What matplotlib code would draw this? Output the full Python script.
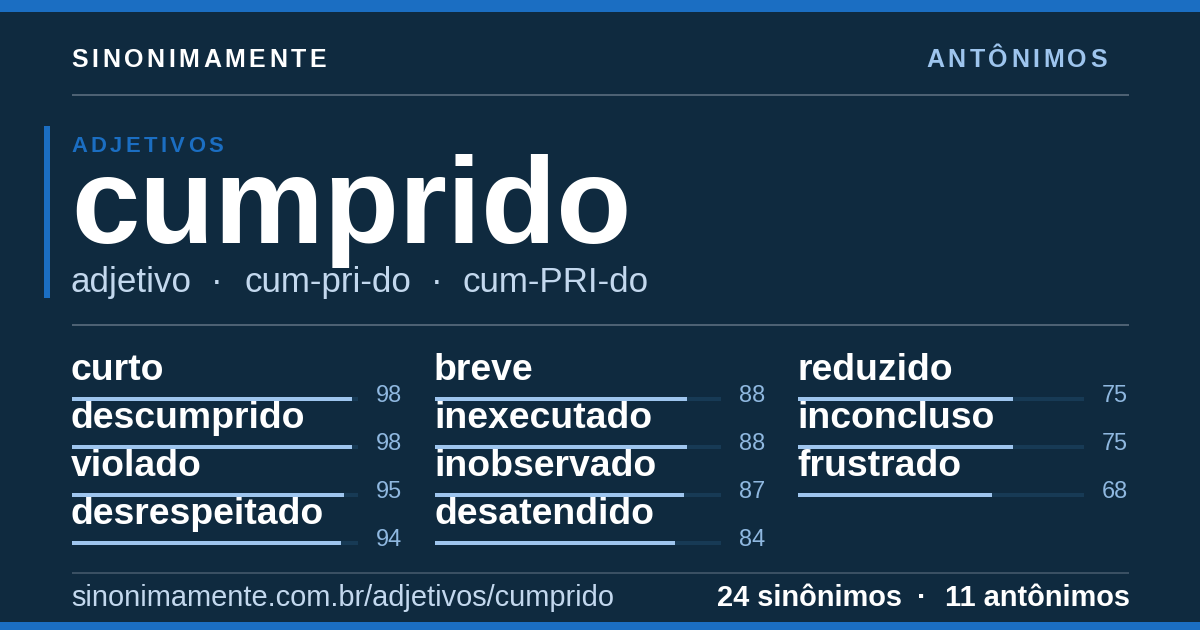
import matplotlib
matplotlib.use("Agg")
import matplotlib.pyplot as plt
from matplotlib import font_manager
from matplotlib.font_manager import FontProperties
from matplotlib.ft2font import FT2Font
from matplotlib.patches import Rectangle

# ---------------- data ----------------
brand = "SINONIMAMENTE"
nav_label = "ANTÔNIMOS"
category = "ADJETIVOS"
headword = "cumprido"
sub_parts = ["adjetivo", "cum-pri-do", "cum-PRI-do"]
col1_words = ["curto", "descumprido", "violado", "desrespeitado"]
col1_scores = [98, 98, 95, 94]
col2_words = ["breve", "inexecutado", "inobservado", "desatendido"]
col2_scores = [88, 88, 87, 84]
col3_words = ["reduzido", "inconcluso", "frustrado"]
col3_scores = [75, 75, 68]
footer_url = "sinonimamente.com.br/adjetivos/cumprido"
n_syn_label = "24 sinônimos"
n_ant_label = "11 antônimos"

# ---------------- style ----------------
BG = "#0f2a3f"
BLUE = "#1b6ec2"
LIGHT = "#9ec5ee"
SUB = "#c3d8ee"
NUM = "#8fb8e0"
TRACK = "#173a55"
DIV = "#4d6173"
FONT = "Liberation Sans"
DPI = 100

def pt(px):
    return px * 72.0 / DPI

fig = plt.figure(figsize=(12, 6.3), dpi=DPI, facecolor=BG)
ax = fig.add_axes([0, 0, 1, 1])
ax.set_xlim(0, 1200)
ax.set_ylim(630, 0)
ax.axis("off")
ax.set_facecolor(BG)

def rect(x, y, w, h, color):
    ax.add_patch(Rectangle((x, y), w, h, facecolor=color, edgecolor="none", lw=0))

def hline(y, x0, x1, color, lw=2):
    ax.plot([x0, x1], [y, y], color=color, lw=lw * 0.72, solid_capstyle="butt")

def spaced(x, y, s, px, ls, color, weight="bold", ha="left"):
    fp = FontProperties(family=FONT, weight=weight)
    f = FT2Font(font_manager.findfont(fp))
    f.set_size(pt(px), DPI)
    advs = []
    for ch in s:
        g = f.load_char(ord(ch))
        advs.append(g.linearHoriAdvance / 65536.0)
    total = sum(advs) + ls * (len(s) - 1)
    cx = x - total if ha == "right" else x
    for ch, a in zip(s, advs):
        ax.text(cx, y, ch, fontsize=pt(px), family=FONT, weight=weight,
                color=color, ha="left", va="baseline")
        cx += a + ls

# bars top and bottom
rect(0, 0, 1200, 12, BLUE)
rect(0, 622, 1200, 8, BLUE)

# header
spaced(71.5, 67, brand, 25, 3.5, "white")
spaced(1107, 67, nav_label, 25, 3.5, LIGHT, ha="right")
hline(95, 72, 1129, DIV)

# accent bar and title block
rect(44, 126, 6, 172, BLUE)
spaced(71.5, 152, category, 22, 3.4, BLUE)
ax.text(71, 243, headword, fontsize=pt(123), family=FONT, weight="bold",
        color="white", ha="left", va="baseline")
sub_x = [71, 244, 462]
dot_x = [217, 437]
for x, s in zip(sub_x, sub_parts):
    ax.text(x, 292, s, fontsize=pt(35), family=FONT, color=SUB,
            ha="left", va="baseline")
for x in dot_x:
    ax.text(x, 292, "·", fontsize=pt(35), family=FONT, color=SUB,
            ha="center", va="baseline")
hline(325, 72, 1129, DIV)

# word columns
cols = [(72, col1_words, col1_scores), (435, col2_words, col2_scores),
        (798, col3_words, col3_scores)]
TRACK_W = 286
for x0, words, scores in cols:
    for i, (w, s) in enumerate(zip(words, scores)):
        yb = 380 + 48 * i
        ax.text(x0 - 1, yb, w, fontsize=pt(37.4), family=FONT, weight="bold",
                color="white", ha="left", va="baseline", zorder=3)
        rect(x0, 397 + 48 * i, TRACK_W, 4, TRACK)
        rect(x0, 397 + 48 * i, TRACK_W * s / 100.0, 4, LIGHT)
        ax.text(x0 + 304, 402 + 48 * i, str(s), fontsize=pt(23.5), family=FONT,
                color=NUM, ha="left", va="baseline")

# footer
hline(573, 72, 1129, "#3a5063")
ax.text(71, 606, footer_url, fontsize=pt(28.95), family=FONT, color=SUB,
        ha="left", va="baseline")
ax.text(1130, 606, n_ant_label, fontsize=pt(29), family=FONT, weight="bold",
        color="white", ha="right", va="baseline")
ax.text(922, 606, "·", fontsize=pt(29), family=FONT, weight="bold",
        color="white", ha="center", va="baseline")
ax.text(902, 606, n_syn_label, fontsize=pt(29), family=FONT, weight="bold",
        color="white", ha="right", va="baseline")

fig.savefig("out.png", dpi=DPI, facecolor=BG)
